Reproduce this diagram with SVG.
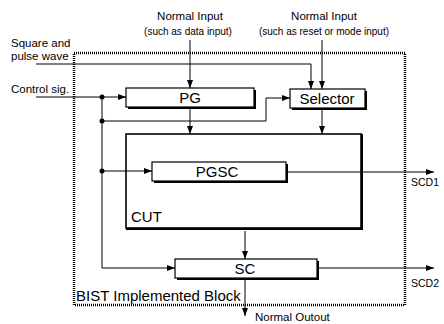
<svg xmlns="http://www.w3.org/2000/svg" width="444" height="324" viewBox="0 0 444 324">
<defs>
<marker id="ah" markerWidth="8" markerHeight="6" refX="8" refY="3" orient="auto" markerUnits="userSpaceOnUse"><path d="M0,0 L8,3 L0,6 Z" fill="#000"/></marker>
</defs>
<style>
text{font-family:"Liberation Sans",Arial,sans-serif;fill:#000}
.box{fill:#fff;stroke:#000;stroke-width:1.2}
.sh{fill:#000}
.ln{fill:none;stroke:#000;stroke-width:1}
.lbl{font-size:15px;text-anchor:middle}
.sm{font-size:11.5px}
.xs{font-size:10px}
</style>
<rect width="444" height="324" fill="#fff"/>
<g id="bist">
<rect x="74" y="53" width="331" height="252" fill="none" stroke="#000" stroke-width="2.5" stroke-dasharray="1,1"/>
<text x="76" y="301" font-size="15">BIST Implemented Block</text>
</g>
<g id="cut">
<rect x="126" y="134" width="237" height="96" fill="#000"/>
<rect x="126" y="134" width="235" height="94" fill="#fff" stroke="#000" stroke-width="1.6"/>
<text x="131" y="222" font-size="15">CUT</text>
</g>
<g id="pg">
<rect x="128" y="90" width="128" height="19" class="sh"/>
<rect x="126" y="88" width="128" height="19" class="box"/>
<text x="190" y="103" class="lbl">PG</text>
</g>
<g id="selector">
<rect x="292" y="91" width="75" height="19" class="sh"/>
<rect x="290" y="89" width="75" height="19" class="box"/>
<text x="327" y="104" class="lbl">Selector</text>
</g>
<g id="pgsc">
<rect x="154" y="164" width="134" height="19" class="sh"/>
<rect x="152" y="162" width="134" height="19" class="box"/>
<text x="217" y="177" class="lbl">PGSC</text>
</g>
<g id="sc">
<rect x="177" y="261" width="142" height="19" class="sh"/>
<rect x="175" y="259" width="142" height="19" class="box"/>
<text x="245" y="274" class="lbl">SC</text>
</g>
<g id="labels">
<text x="190" y="20" class="sm" text-anchor="middle">Normal Input</text>
<text x="188" y="35" class="xs" text-anchor="middle">(such as data input)</text>
<text x="324" y="20" class="sm" text-anchor="middle">Normal Input</text>
<text x="324" y="35" class="xs" text-anchor="middle">(such as reset or mode input)</text>
<text x="11" y="47" class="sm">Square and</text>
<text x="11" y="60" class="sm">pulse wave</text>
<text x="11" y="93" class="sm">Control sig.</text>
<text x="411" y="186" font-size="10.5">SCD1</text>
<text x="411" y="287" font-size="10.5">SCD2</text>
<text x="255" y="321" font-size="11.5">Normal Outout</text>
</g>
<g id="connectors">
<path class="ln" d="M190,40 V88" stroke-width="1.6" marker-end="url(#ah)"/>
<path class="ln" d="M322,40 V89" stroke-width="1.6" marker-end="url(#ah)"/>
<path class="ln" d="M36,64 H311 V89" marker-end="url(#ah)"/>
<path class="ln" d="M36,97 H126" marker-end="url(#ah)"/>
<path class="ln" d="M102,97 V268 H175" marker-end="url(#ah)"/>
<path class="ln" d="M102,121 H266 V98 H290" marker-end="url(#ah)"/>
<path class="ln" d="M102,171 H152" marker-end="url(#ah)"/>
<path class="ln" d="M190,109 V134" stroke-width="1.5" marker-end="url(#ah)"/>
<path class="ln" d="M322,110 V134" stroke-width="1.5" marker-end="url(#ah)"/>
<path class="ln" d="M245,231 V259" stroke-width="1.5" marker-end="url(#ah)"/>
<path class="ln" d="M245,280 V316" stroke-width="1.5" marker-end="url(#ah)"/>
<path class="ln" d="M288,172 H434" marker-end="url(#ah)"/>
<path class="ln" d="M319,268 H434" marker-end="url(#ah)"/>
<circle cx="102" cy="97" r="2.5"/>
<circle cx="102" cy="121" r="2.5"/>
<circle cx="102" cy="171" r="2.5"/>
</g>
</svg>
